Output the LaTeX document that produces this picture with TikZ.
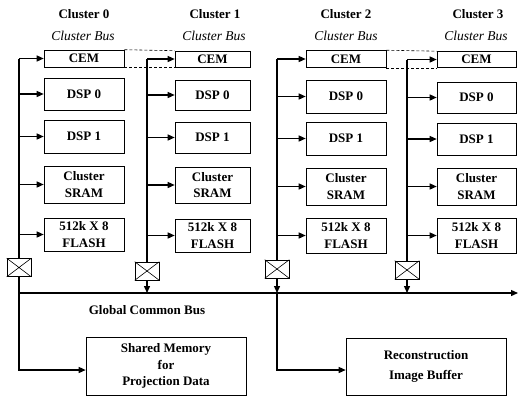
\documentclass[tikz,border=0pt]{standalone}
\usepackage{fontspec}
\setmainfont{Liberation Serif}
\usetikzlibrary{arrows.meta}
\begin{document}
\begin{tikzpicture}[x=1pt,y=-1pt,
  unit/.style={draw, line width=0.6pt, inner sep=0pt, align=center,
    font=\fontsize{13}{16.5}\selectfont\bfseries},
  title/.style={font=\fontsize{13}{15}\selectfont\bfseries},
  busname/.style={font=\fontsize{13.5}{15}\selectfont\itshape},
  xbox/.style={draw, line width=0.6pt, minimum width=24pt, minimum height=18pt, inner sep=0pt},
  bus/.style={line width=1.3pt},
  arr/.style={bus, -{Triangle[length=7pt,width=6pt]}},
  link/.style={densely dashed, line width=0.6pt}]
\useasboundingbox (0,0) rectangle (518,397);

% cluster titles
\node[title]   (t0) at (84,14)  {Cluster 0};
\node[title]   (t1) at (215,14) {Cluster 1};
\node[title]   (t2) at (346,14) {Cluster 2};
\node[title]   (t3) at (478,14) {Cluster 3};
\node[busname] (b0) at (83,36)  {Cluster Bus};
\node[busname] (b1) at (214,36) {Cluster Bus};
\node[busname] (b2) at (346,36) {Cluster Bus};
\node[busname] (b3) at (476,36) {Cluster Bus};

% cluster 0 units
\node[unit, minimum width=80pt, minimum height=17pt] (cem0)  at (84,58.5)  {CEM};
\node[unit, minimum width=80pt, minimum height=32pt] (dspa0) at (84,94)    {DSP 0};
\node[unit, minimum width=80pt, minimum height=33pt] (dspb0) at (84,136.5) {DSP 1};
\node[unit, minimum width=80pt, minimum height=37pt] (sram0) at (84,184.5) {Cluster\\SRAM};
\node[unit, minimum width=80pt, minimum height=33pt] (fl0)   at (84,234.5) {512k X 8\\FLASH};
% cluster 1 units
\node[unit, minimum width=75pt, minimum height=16pt] (cem1)  at (212.5,59)   {CEM};
\node[unit, minimum width=75pt, minimum height=30pt] (dspa1) at (212.5,95)   {DSP 0};
\node[unit, minimum width=75pt, minimum height=31pt] (dspb1) at (212.5,137.5) {DSP 1};
\node[unit, minimum width=75pt, minimum height=36pt] (sram1) at (212.5,185)  {Cluster\\SRAM};
\node[unit, minimum width=75pt, minimum height=33pt] (fl1)   at (212.5,235.5) {512k X 8\\FLASH};
% cluster 2 units
\node[unit, minimum width=80pt, minimum height=17pt] (cem2)  at (346,59)    {CEM};
\node[unit, minimum width=80pt, minimum height=33pt] (dspa2) at (346,96.5)  {DSP 0};
\node[unit, minimum width=80pt, minimum height=33pt] (dspb2) at (346,138.5) {DSP 1};
\node[unit, minimum width=80pt, minimum height=37pt] (sram2) at (346,186.5) {Cluster\\SRAM};
\node[unit, minimum width=80pt, minimum height=35pt] (fl2)   at (346,235.5) {512k X 8\\FLASH};
% cluster 3 units
\node[unit, minimum width=79pt, minimum height=16pt] (cem3)  at (476.5,59.5)  {CEM};
\node[unit, minimum width=79pt, minimum height=31pt] (dspa3) at (476.5,97.5)  {DSP 0};
\node[unit, minimum width=79pt, minimum height=32pt] (dspb3) at (476.5,139)   {DSP 1};
\node[unit, minimum width=79pt, minimum height=37pt] (sram3) at (476.5,186.5) {Cluster\\SRAM};
\node[unit, minimum width=79pt, minimum height=35pt] (fl3)   at (476.5,235.5) {512k X 8\\FLASH};

% cluster bus links between neighbouring CEMs
\draw[link] (cem0.north east) -- (cem1.north west);
\draw[link] (cem0.south east) -- (cem1.south west);
\draw[link] (cem2.north east) -- (cem3.north west);
\draw[link] (cem2.south east) -- (cem3.south west);

% bus switches
\node[xbox] (x0) at (19,267.5) {};
\node[xbox] (x1) at (147,271)  {};
\node[xbox] (x2) at (277,269)  {};
\node[xbox] (x3) at (407,270)  {};
\foreach \s in {x0,x1,x2,x3}{
  \draw[line width=0.6pt] (\s.north west) -- (\s.south east)
                          (\s.north east) -- (\s.south west);
}

% global bus
\coordinate (gw) at (19,293);
\coordinate (ge) at (518,293);
\draw[arr] (gw) -- (ge);
\node[title] (gcb) at (147,310) {Global Common Bus};

% shared memories
\node[unit, minimum width=160pt, minimum height=58pt] (shm) at (166,366) {Shared Memory\\for\\Projection Data};
\node[unit, minimum width=160pt, minimum height=57pt, font=\fontsize{13}{20}\selectfont\bfseries] (rib) at (426,366.5) {Reconstruction\\Image Buffer};

% cluster buses
\foreach \c in {0,1,2,3}{
  \draw[bus] (cem\c.west -| x\c.north) -- (x\c.north);
  \foreach \u in {cem,dspa,dspb,sram,fl}{
    \draw[arr] (\u\c.west -| x\c.north) -- (\u\c.west);
  }
}
\draw[arr] (x1.south) -- (x1.south |- gw);
\draw[arr] (x2.south) -- (x2.south |- gw);
\draw[arr] (x3.south) -- (x3.south |- gw);
\draw[arr] (x0.south) |- ([yshift=-4pt]shm.west);
\draw[arr] (x2.south |- gw) |- ([yshift=-3.5pt]rib.west);
\end{tikzpicture}
\end{document}
